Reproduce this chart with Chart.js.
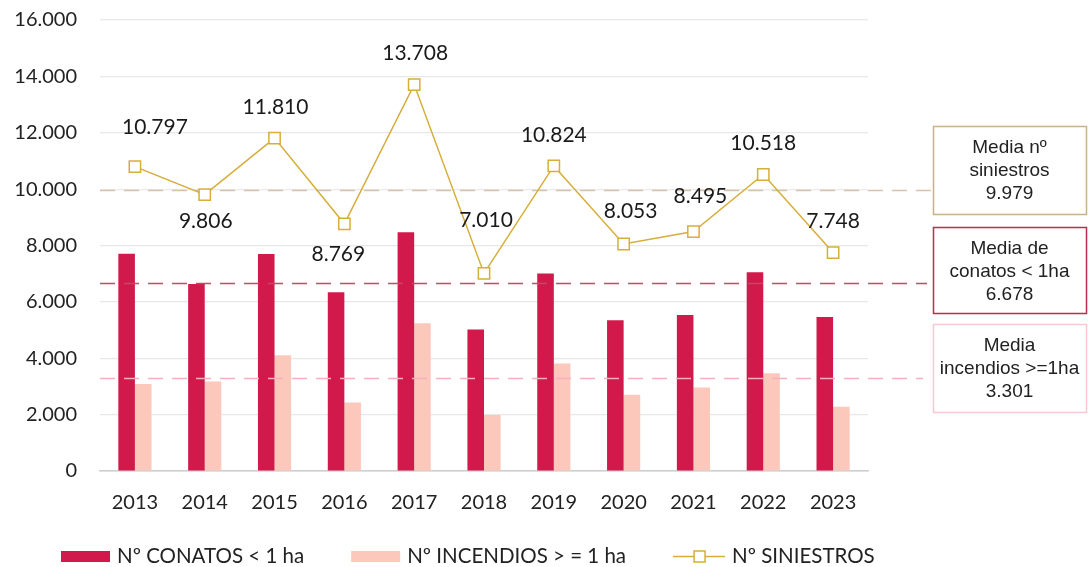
<!DOCTYPE html>
<html>
<head>
<meta charset="utf-8">
<script src="https://cdn.jsdelivr.net/npm/chart.js@4.4.1/dist/chart.umd.min.js"></script>
<style>
  html, body { margin: 0; padding: 0; background: #ffffff; }
  #wrap { width: 1090px; height: 567px; position: relative; }
</style>
</head>
<body>
<div id="wrap"><canvas id="c" width="1090" height="567"></canvas></div>
<script>
// Annual fire statistics, 2013-2023
const years = ['2013', '2014', '2015', '2016', '2017', '2018', '2019', '2020', '2021', '2022', '2023'];
const conatos = [7707, 6630, 7700, 6340, 8470, 5020, 7010, 5345, 5530, 7050, 5465];
const incendios = [3090, 3176, 4110, 2429, 5240, 1990, 3814, 2708, 2965, 3468, 2283];
const siniestros = [10797, 9806, 11810, 8769, 13708, 7010, 10824, 8053, 8495, 10518, 7748];
const yTicks = [0, 2000, 4000, 6000, 8000, 10000, 12000, 14000, 16000];

// Reference means shown as dashed lines with captions
const meanValues = [9979, 6678, 3301];
const meanTitles = [['Media nº', 'siniestros'], ['Media de', 'conatos < 1ha'], ['Media', 'incendios >=1ha']];

const CRIMSON = '#D11A4B';
const PINK = '#FDC8BC';
const GOLD = '#D6AE3A';
const MEAN_LINE_COLORS = ['#D8C2AA', '#CC4466', '#F6AEC0'];
const MEAN_BOX_COLORS = ['#C9B08F', '#B82E4C', '#F9C8D3'];

// label placement around each point of the line series (dx, dy in px)
const labelOffsets = [[20, -39], [1, 27], [1, -31], [-6, 30], [1, -31], [2, -53], [0, -31], [7, -33], [7, -35], [0, -31], [0, -31]];

const fmt = v => String(Math.round(v)).replace(/\B(?=(\d{3})+(?!\d))/g, '.');
const FONT = 'Lato, "Open Sans", sans-serif';

// Dashed mean lines, drawn above the bars but below the line series
const meanLines = {
  id: 'meanLines',
  beforeDatasetDraw(chart, args) {
    if (args.index !== 2) return;
    const { ctx, chartArea, scales } = chart;
    const boxLeft = chart.width - 157;
    ctx.save();
    ctx.lineWidth = 1.6;
    ctx.setLineDash([15, 9]);
    meanValues.forEach((v, i) => {
      const y = Math.round(scales.y.getPixelForValue(v)) + 0.5;
      ctx.strokeStyle = MEAN_LINE_COLORS[i];
      ctx.beginPath();
      ctx.moveTo(chartArea.left, y);
      ctx.lineTo(boxLeft - [0, 6, 10][i], y);
      ctx.stroke();
    });
    ctx.restore();
  }
};

// Caption boxes on the right side
const meanBoxes = {
  id: 'meanBoxes',
  afterDraw(chart) {
    const { ctx } = chart;
    const left = chart.width - 157, w = 153;
    const tops = [126, 227, 324], h = [88, 86, 88];
    ctx.save();
    meanValues.forEach((v, i) => {
      ctx.fillStyle = '#ffffff';
      ctx.fillRect(left, tops[i], w, h[i]);
      ctx.strokeStyle = MEAN_BOX_COLORS[i];
      ctx.lineWidth = 1.5;
      ctx.strokeRect(left + 0.5, tops[i] + 0.5, w, h[i]);
      ctx.fillStyle = '#222222';
      ctx.font = '19px "Liberation Sans", Arial, sans-serif';
      ctx.textAlign = 'center';
      ctx.textBaseline = 'middle';
      const lines = meanTitles[i].concat([fmt(v)]);
      lines.forEach((t, k) => ctx.fillText(t, left + w / 2, tops[i] + 22 + k * 23));
    });
    ctx.restore();
  }
};

// Value labels for the line series
const valueLabels = {
  id: 'valueLabels',
  afterDatasetsDraw(chart) {
    const { ctx } = chart;
    const meta = chart.getDatasetMeta(2);
    ctx.save();
    ctx.font = '21px ' + FONT;
    ctx.fillStyle = '#1a1a1a';
    ctx.textAlign = 'center';
    ctx.textBaseline = 'middle';
    meta.data.forEach((pt, i) => {
      const [dx, dy] = labelOffsets[i];
      ctx.fillText(fmt(siniestros[i]), pt.x + dx, pt.y + dy);
    });
    ctx.restore();
  }
};

// Legend row at the bottom
const bottomLegend = {
  id: 'bottomLegend',
  afterDraw(chart) {
    const { ctx } = chart;
    ctx.save();
    ctx.font = '20.5px ' + FONT;
    ctx.textBaseline = 'middle';
    let x = chart.chartArea.left - 39;
    const y = 556;
    chart.data.datasets.forEach(ds => {
      if (ds.type === 'bar') {
        ctx.fillStyle = ds.backgroundColor;
        ctx.fillRect(x, y - 5, 49, 11);
        x += 49 + 7;
      } else {
        ctx.strokeStyle = ds.borderColor;
        ctx.lineWidth = 1.5;
        ctx.beginPath();
        ctx.moveTo(x, y + 0.5);
        ctx.lineTo(x + 52, y + 0.5);
        ctx.stroke();
        ctx.fillStyle = '#ffffff';
        ctx.fillRect(x + 21, y - 5, 11, 11);
        ctx.strokeRect(x + 21, y - 5, 11, 11);
        x += 52 + 7;
      }
      ctx.fillStyle = '#222222';
      ctx.fillText(ds.label, x, y);
      x += ctx.measureText(ds.label).width + 47;
    });
    ctx.restore();
  }
};

new Chart(document.getElementById('c'), {
  data: {
    labels: years,
    datasets: [
      { type: 'bar', label: 'Nº CONATOS < 1 ha', data: conatos, backgroundColor: CRIMSON,
        order: 2, categoryPercentage: 0.475, barPercentage: 1 },
      { type: 'bar', label: 'Nº INCENDIOS > = 1 ha', data: incendios, backgroundColor: PINK,
        order: 2, categoryPercentage: 0.475, barPercentage: 1 },
      { type: 'line', label: 'Nº SINIESTROS', data: siniestros, borderColor: GOLD, borderWidth: 1.5,
        pointStyle: 'rect', pointRadius: 8, pointBackgroundColor: '#ffffff', pointBorderColor: GOLD,
        pointBorderWidth: 1.5, tension: 0, order: 1 }
    ]
  },
  options: {
    responsive: false,
    animation: false,
    devicePixelRatio: 1,
    layout: { padding: { left: 0, right: 222, top: 20, bottom: 0 } },
    scales: {
      x: {
        grid: { display: false },
        border: { color: '#cfcfcf', width: 1.5 },
        ticks: { font: { family: FONT, size: 20 }, color: '#222222', padding: 12 },
        afterFit(s) { s.height = 96; }
      },
      y: {
        min: 0, max: 16000,
        afterBuildTicks(s) { s.ticks = yTicks.map(v => ({ value: v })); },
        grid: { color: c => c.tick && c.tick.value === 0 ? '#cfcfcf' : '#e8e8e8', drawTicks: false, lineWidth: 1.2 },
        border: { display: false },
        ticks: { font: { family: FONT, size: 20 }, color: '#222222', padding: 23, callback: v => fmt(v) },
        afterFit(s) { s.width = 100; s.paddingTop = 12; s.paddingBottom = 12; }
      }
    },
    plugins: { legend: { display: false }, tooltip: { enabled: false } }
  },
  plugins: [meanLines, valueLabels, meanBoxes, bottomLegend]
});
</script>
</body>
</html>
